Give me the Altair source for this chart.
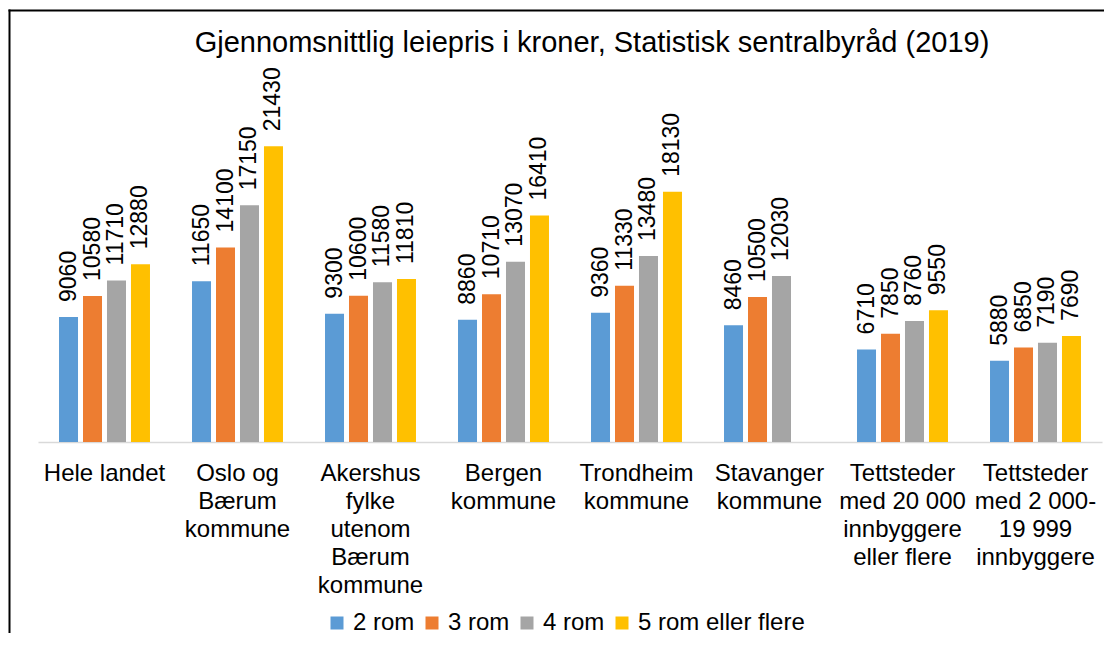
import altair as alt
import pandas as pd

categories = [
    ["Hele landet"],
    ["Oslo og", "Bærum", "kommune"],
    ["Akershus", "fylke", "utenom", "Bærum", "kommune"],
    ["Bergen", "kommune"],
    ["Trondheim", "kommune"],
    ["Stavanger", "kommune"],
    ["Tettsteder", "med 20 000", "innbyggere", "eller flere"],
    ["Tettsteder", "med 2 000-", "19 999", "innbyggere"],
]
series = ["2 rom", "3 rom", "4 rom", "5 rom eller flere"]
rom2 = [9060, 11650, 9300, 8860, 9360, 8460, 6710, 5880]
rom3 = [10580, 14100, 10600, 10710, 11330, 10500, 7850, 6850]
rom4 = [11710, 17150, 11580, 13070, 13480, 12030, 8760, 7190]
rom5 = [12880, 21430, 11810, 16410, 18130, None, 9550, 7690]
colors = ["#5B9BD5", "#ED7D31", "#A5A5A5", "#FFC000"]
title_text = "Gjennomsnittlig leiepris i kroner, Statistisk sentralbyråd (2019)"

rows = []
for i, cat in enumerate(categories):
    label = "|".join(cat)
    for s, vals in zip(series, [rom2, rom3, rom4, rom5]):
        v = vals[i]
        if v is not None:
            rows.append({"kategori": label, "rom": s, "pris": v})
df = pd.DataFrame(rows)
cat_order = ["|".join(c) for c in categories]

FONT = "Liberation Sans"
W, H = 1064, 345
PAD = {"left": 30, "top": 89, "right": 4, "bottom": 195}

base = alt.Chart(df).encode(
    x=alt.X(
        "kategori:N",
        sort=cat_order,
        scale=alt.Scale(domain=cat_order, paddingInner=0.316, paddingOuter=0.158),
        axis=alt.Axis(
            title=None,
            labelExpr="split(datum.label, '|')",
            labelAngle=0,
            labelFontSize=24,
            labelFont=FONT,
            labelColor="#000000",
            labelPadding=19,
            labelLineHeight=28,
            labelLimit=300,
            labelOverlap=False,
            ticks=False,
            domainColor="#D9D9D9",
            domainWidth=1.5,
            grid=False,
        ),
    ),
    xOffset=alt.XOffset("rom:N", scale=alt.Scale(domain=series, paddingInner=0.208, paddingOuter=0)),
    y=alt.Y("pris:Q", scale=alt.Scale(domain=[0, 25000]), axis=None),
)

bars = base.mark_bar().encode(
    color=alt.Color(
        "rom:N",
        scale=alt.Scale(domain=series, range=colors),
        legend=alt.Legend(
            title=None,
            orient="none",
            legendX=287,
            legendY=514,
            direction="horizontal",
            symbolType="square",
            symbolSize=169,
            symbolStrokeWidth=0,
            labelFontSize=24,
            labelFont=FONT,
            labelColor="#000000",
            labelOffset=4,
            labelLimit=300,
            columnPadding=5,
            padding=0,
        ),
    )
)

labels = base.mark_text(
    angle=270, align="left", baseline="middle", dx=15,
    fontSize=23, font=FONT, color="#000000",
).encode(text=alt.Text("pris:Q", format="d"))

# chart frame: left and top edges as thin filled strips
one = alt.Data(values=[{"edge": "frame"}])
left_edge = alt.Chart(one).mark_rect(color="#000000", strokeWidth=0).encode(
    x=alt.value(-29.5), x2=alt.value(-27.5),
    y=alt.value(-87.5), y2=alt.value(H + PAD["bottom"] - 4),
)
top_edge = alt.Chart(one).mark_rect(color="#000000", strokeWidth=0).encode(
    x=alt.value(-29.5), x2=alt.value(W + PAD["right"] - 2),
    y=alt.value(-87.5), y2=alt.value(-85.5),
)

chart = alt.layer(left_edge, top_edge, bars, labels).properties(
    width=W,
    height=H,
    padding=PAD,
    autosize=alt.AutoSizeParams(type="none"),
    title=alt.Title(
        title_text, fontSize=29, font=FONT, fontWeight="normal",
        color="#000000", anchor="middle", dx=22, offset=0, dy=48.5,
    ),
).configure_view(stroke=None)

chart.save("out.html", embed_options={"renderer": "svg", "actions": False})
